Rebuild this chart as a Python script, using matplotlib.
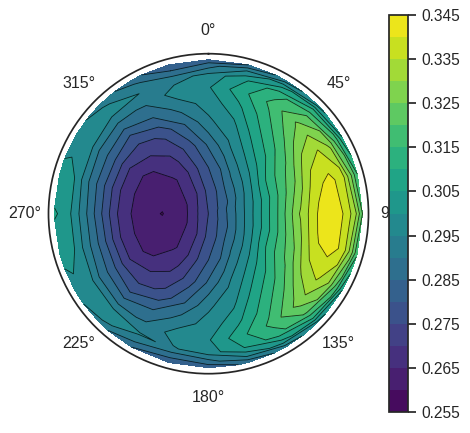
import numpy as np
import matplotlib
matplotlib.use("Agg")
import matplotlib.pyplot as plt

plt.rcParams['font.family'] = ['Liberation Sans', 'DejaVu Sans']

radii = [0, 13.5, 27, 40.5, 54, 64.8, 73.8, 81, 86.4, 90]
azimuths = list(range(0, 361, 15))

az000 = [.2751, .2775, .2800, .2860, .2940, .2970, .2995, .2965, .2880, .2820]
az015 = [.2751, .2790, .2850, .2935, .2985, .3035, .3080, .3040, .2950, .2850]
az030 = [.2751, .2817, .2910, .2995, .3075, .3125, .3165, .3130, .3030, .2920]
az045 = [.2751, .2840, .2945, .3055, .3145, .3215, .3260, .3200, .3100, .2980]
az060 = [.2751, .2855, .2977, .3120, .3215, .3320, .3352, .3290, .3160, .3050]
az075 = [.2751, .2875, .3000, .3135, .3270, .3385, .3415, .3375, .3250, .3150]
az090 = [.2751, .2875, .3010, .3150, .3310, .3410, .3430, .3385, .3300, .3200]
az105 = [.2751, .2870, .3000, .3135, .3275, .3395, .3420, .3390, .3270, .3160]
az120 = [.2751, .2855, .2977, .3120, .3220, .3325, .3360, .3300, .3170, .3050]
az135 = [.2751, .2840, .2945, .3055, .3145, .3215, .3270, .3210, .3100, .2980]
az150 = [.2751, .2817, .2910, .2995, .3075, .3125, .3165, .3130, .3030, .2920]
az165 = [.2751, .2790, .2850, .2935, .2985, .3035, .3085, .3050, .2950, .2860]
az180 = [.2751, .2775, .2800, .2860, .2940, .2970, .2995, .2975, .2880, .2820]
az195 = [.2751, .2725, .2745, .2780, .2850, .2925, .2975, .2945, .2860, .2810]
az210 = [.2751, .2700, .2685, .2710, .2765, .2850, .2905, .2955, .2900, .2850]
az225 = [.2751, .2675, .2645, .2670, .2725, .2800, .2890, .2980, .2970, .2920]
az240 = [.2751, .2655, .2620, .2630, .2705, .2820, .2900, .2985, .2990, .2970]
az255 = [.2751, .2645, .2612, .2625, .2705, .2830, .2925, .3000, .3015, .3020]
az270 = [.2751, .2640, .2598, .2620, .2705, .2827, .2930, .3005, .3045, .3055]
az285 = [.2751, .2645, .2610, .2625, .2705, .2820, .2915, .3000, .3010, .3020]
az300 = [.2751, .2655, .2620, .2630, .2705, .2820, .2900, .2985, .2990, .2970]
az315 = [.2751, .2675, .2645, .2670, .2725, .2800, .2890, .2960, .2960, .2930]
az330 = [.2751, .2700, .2685, .2710, .2765, .2850, .2905, .2950, .2910, .2870]
az345 = [.2751, .2725, .2745, .2780, .2850, .2925, .2975, .2930, .2850, .2800]

columns = [az000, az015, az030, az045, az060, az075, az090, az105, az120, az135,
           az150, az165, az180, az195, az210, az225, az240, az255, az270, az285,
           az300, az315, az330, az345, az000]
levels = np.arange(0.255, 0.3451, 0.005)
cbar_ticks = [0.255, 0.265, 0.275, 0.285, 0.295, 0.305, 0.315, 0.325, 0.335, 0.345]

W, H = 470, 433
fig = plt.figure(figsize=(W / 100, H / 100), dpi=100, facecolor='white')
ax = fig.add_axes([48.5 / W, (H - 373.7) / H, 320 / W, 320 / H], projection='polar')
ax.set_theta_zero_location('N')
ax.set_theta_direction(-1)

T, R = np.meshgrid(np.deg2rad(azimuths), radii)
Z = np.array(columns).T
cf = ax.contourf(T, R, Z, levels=levels, cmap='viridis', vmin=0.255, vmax=0.345)
ax.contour(T, R, Z, levels=levels, colors='black', linewidths=0.6, alpha=0.75)

ax.set_rlim(0, 93.5)
ax.set_yticks([])
ax.set_xticks(np.deg2rad(np.arange(0, 360, 45)))
ax.set_xticklabels(['0°', '45°', '90°', '135°', '180°', '225°', '270°', '315°'])
ax.tick_params(axis='x', labelsize=11.5, colors='#262626', pad=10, length=0)
ax.grid(False)
ax.spines['polar'].set_color('#262626')
ax.spines['polar'].set_linewidth(1.25)

cax = fig.add_axes([389 / W, (H - 412) / H, 19 / W, 397 / H])
cb = fig.colorbar(cf, cax=cax, ticks=cbar_ticks, format='%.3f')
cb.ax.tick_params(labelsize=11.2, colors='#262626', length=6, width=1.25)
cb.outline.set_edgecolor('#262626')
cb.outline.set_linewidth(1.25)

fig.savefig('out.png', dpi=100)
